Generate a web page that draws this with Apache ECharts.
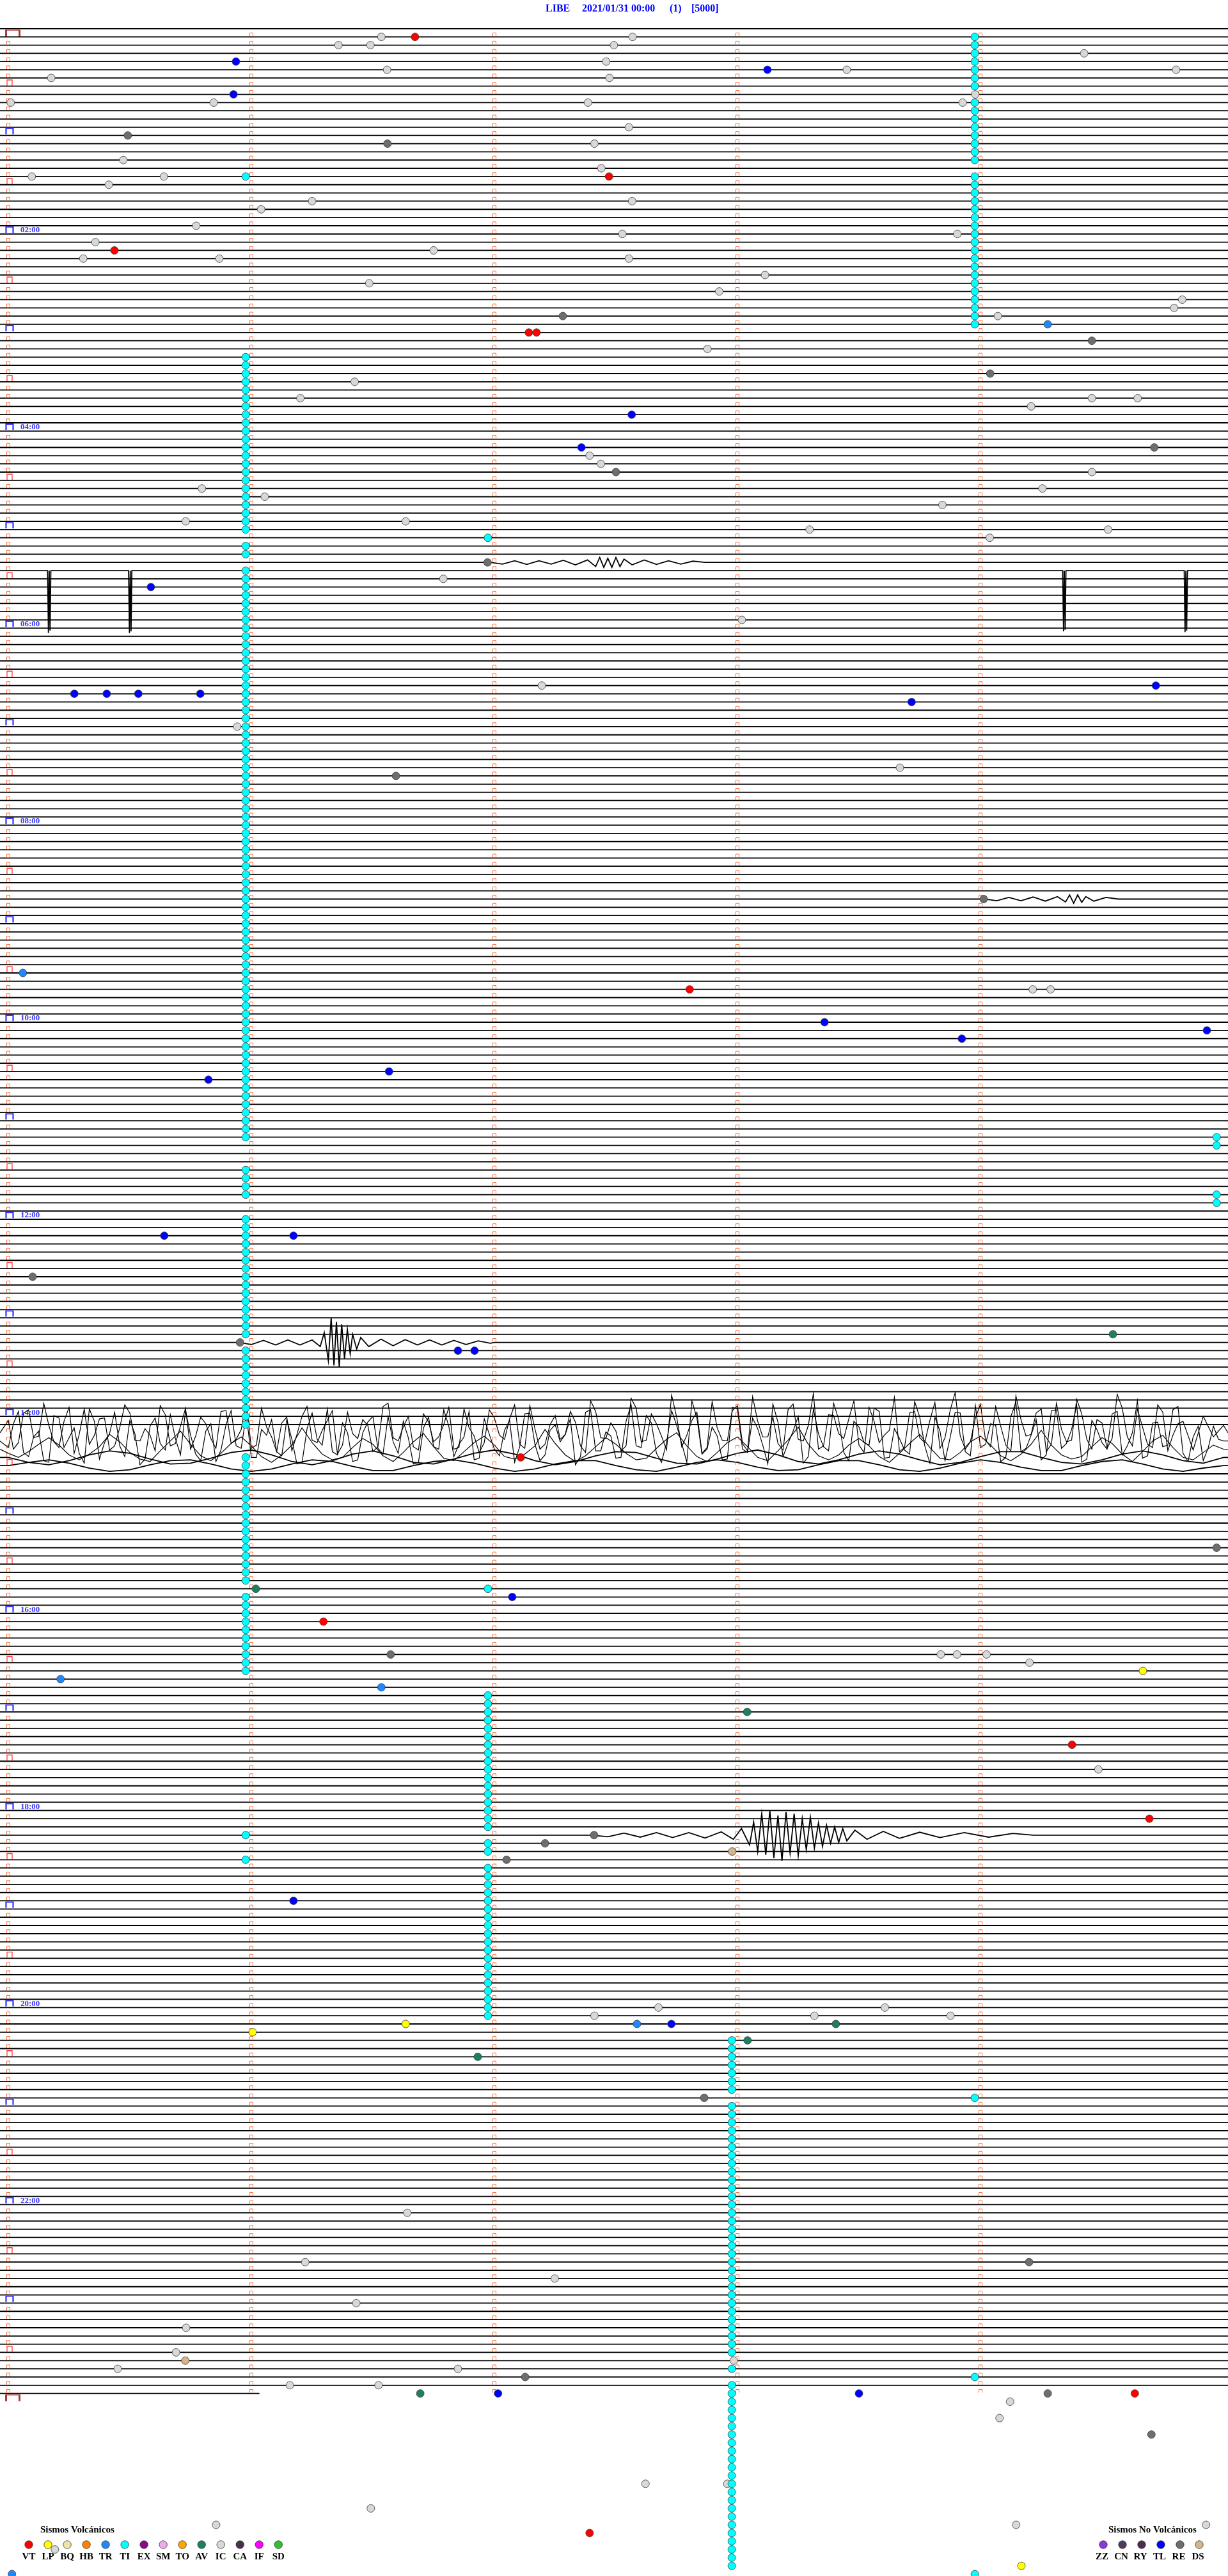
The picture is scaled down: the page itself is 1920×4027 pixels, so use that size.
<!DOCTYPE html>
<html><head><meta charset="utf-8">
<script src="https://cdn.jsdelivr.net/npm/echarts/dist/echarts.min.js"></script>
<style>html,body{margin:0;padding:0;background:#fff}#c{width:1920px;height:4027px}</style>
</head><body><div id="c"></div>
<script>
// ---------------- DATA ----------------
const titleParts = ['LIBE', '2021/01/31 00:00', '(1)', '[5000]'];
const rowCount = 289;            // 5-minute rows 0..288
const lastRowEndSec = 62;        // last row stops after ~1 min
const minuteTicks = [0, 60, 120, 180, 240];
const hourLabels = ['02:00','04:00','06:00','08:00','10:00','12:00','14:00','16:00','18:00','20:00','22:00'];
const volcTypes = ['VT','LP','BQ','HB','TR','TI','EX','SM','TO','AV','IC','CA','IF','SD'];
const volcColors = ['#ff0000','#ffff00','#f0e4a4','#ff8000','#2088ff','#00ffff','#8a0a8a','#eeaaee','#ffa500','#1e8060','#d8d8d8','#4a2e4e','#ff00ff','#30c030'];
const noVolcTypes = ['ZZ','CN','RY','TL','RE','DS'];
const noVolcColors = ['#8a3ad6','#4e3c5c','#4e2c4e','#0000ff','#6e6e6e','#d4b48c'];

// events: [second within row, row]
const VT = [[100.4,1],[26.2,27],[148.3,18],[128.5,37],[130.4,37],[168.2,117],[126.5,174],[77.8,194],[262.6,209],[281.7,218],[278.1,288],[143.5,305]];
const LP = [[280.1,200],[98.1,243],[60.3,244],[250.1,309]];
const TR = [[256.6,36],[3.6,115],[12.9,201],[92.1,202],[155.2,243],[0.9,310]];
const AV = [[272.7,159],[61.1,190],[182.4,205],[204.3,243],[182.5,245],[115.9,247],[101.7,288]];
const DS = [[178.7,222],[43.7,284]];
const TL = [[56.2,4],[187.4,5],[55.6,8],[153.9,47],[141.5,51],[35.2,68],[16.3,81],[24.3,81],[32.1,81],[47.4,81],[223.0,82],[283.3,80],[201.5,121],[235.4,123],[295.9,122],[49.4,128],[94.0,127],[38.5,147],[70.4,147],[111.0,161],[115.1,161],[124.4,191],[70.4,228],[163.7,243],[120.9,288],[210.0,288]];
const RE = [[29.5,13],[93.6,14],[136.9,35],[267.5,38],[242.4,42],[150.0,54],[282.9,51],[118.3,65],[95.7,91],[240.8,106],[6.0,152],[57.2,160],[298.3,185],[94.4,198],[144.6,220],[132.5,221],[123.0,223],[171.8,252],[252.0,272],[127.6,286],[256.6,288],[282.2,293]];
const IC = [[92.1,1],[154.1,1],[81.5,2],[89.4,2],[149.5,2],[265.6,3],[147.6,4],[93.5,5],[207.0,5],[288.3,5],[10.6,6],[148.4,6],[238.7,8],[0.6,9],[50.7,9],[235.6,9],[143.1,9],[153.2,12],[144.7,14],[28.4,16],[146.4,17],[5.8,18],[38.4,18],[24.8,19],[75.0,21],[154.0,21],[62.4,22],[46.4,24],[234.3,25],[151.6,25],[21.5,26],[105.0,27],[18.5,28],[52.1,28],[153.2,28],[186.8,30],[89.1,31],[175.5,32],[289.8,33],[244.3,35],[287.8,34],[172.6,39],[85.5,43],[267.5,45],[278.8,45],[72.1,45],[252.5,46],[143.5,52],[146.3,53],[267.5,54],[47.8,56],[255.3,56],[63.3,57],[230.6,58],[98.1,60],[43.8,60],[197.8,61],[271.5,61],[242.3,62],[107.4,67],[181.1,72],[131.7,80],[56.5,85],[220.1,90],[252.9,117],[257.3,117],[230.2,198],[234.2,198],[241.5,198],[252.1,199],[269.1,212],[160.5,241],[216.4,241],[199.0,242],[232.6,242],[144.7,242],[98.5,266],[73.3,272],[134.9,274],[85.9,277],[43.9,280],[41.4,283],[179.1,284],[27.0,285],[111.0,285],[69.5,287],[91.4,287],[247.3,289],[244.7,291],[157.3,299],[177.5,299],[89.5,302],[51.3,304],[248.8,304],[295.7,304],[11.5,307]];
// TI runs: [second, firstRow, lastRow]
const TI_RUNS = [[238.6,1,7],[238.6,9,16],[238.6,18,36],[238.6,252,252],[238.6,286,286],[238.6,310,310],
  [58.6,18,18],[58.6,40,61],[58.6,63,64],[58.6,66,135],[58.6,139,142],[58.6,145,159],[58.6,161,170],[58.6,174,189],[58.6,191,200],[58.6,220,220],[58.6,223,223],
  [118.4,62,62],[118.4,190,190],[118.4,203,219],[118.4,221,222],[118.4,224,242],
  [178.6,245,251],[178.6,253,283],[178.6,285,285],[178.6,287,309],
  [298.3,135,136],[298.3,142,143]];

// trace excursions: [second, offset in rows]
const row65 = [[119,0],[122,0.2],[125,-0.2],[128,0.25],[131,-0.2],[134,0.2],[137,-0.25],[140,0.3],[143,-0.3],[145,0.5],[146,-0.6],[147,0.6],[148,-0.5],[149,0.6],[150,-0.6],[151,0.5],[152,-0.4],[154,0.3],[157,-0.3],[160,0.25],[163,-0.2],[166,0.2],[169,-0.15],[172,0]];
const row66 = [[9.7,0],[9.9,7.6],[10.1,0],[10.3,7.3],[10.5,0],[29.7,0],[29.9,7.6],[30.1,0],[30.3,7.4],[30.5,0],[260.3,0],[260.5,7.4],[260.7,0],[260.9,7.2],[261.1,0],[290.3,0],[290.5,7.5],[290.7,0],[290.9,7.3],[291.1,0]];
const row106 = [[241,0],[244,0.2],[247,-0.2],[250,0.2],[253,-0.25],[256,0.25],[259,-0.3],[261,0.35],[262,-0.5],[263,0.5],[264,-0.5],[265,0.4],[266,-0.3],[268,0.25],[271,-0.2],[274,0]];
const row160 = [[57,0],[60,0.25],[63,-0.25],[66,0.3],[69,-0.3],[72,0.3],[75,-0.3],[77,0.5],[78,-1.2],[79,2.2],[79.7,-3.0],[80.4,2.8],[81,-2.5],[81.7,3.0],[82.3,-2.2],[83,2.0],[83.7,-1.6],[84.4,1.4],[85,-1.0],[86,0.8],[87,-0.6],[89,0.5],[92,-0.4],[95,0.4],[98,-0.35],[101,0.3],[104,-0.3],[107,0.3],[110,-0.25],[113,0.25],[116,-0.2],[119,0.1],[120,0]];
const row220 = [[144,0],[148,0.2],[152,-0.25],[156,0.25],[160,-0.3],[164,0.3],[168,-0.3],[172,0.35],[176,-0.4],[179,0.5],[181,-0.8],[183,1.2],[184,-1.6],[185,2.0],[186,-2.6],[187,2.4],[188,-3.0],[189,2.8],[190,-2.4],[191,3.1],[192,-2.8],[193,2.2],[194,-2.6],[195,2.5],[196,-2.0],[197,1.8],[198,-2.2],[199,1.6],[200,-1.5],[201,1.4],[202,-1.2],[203,1.0],[204,-1.0],[205,0.9],[206,-0.8],[207,0.7],[209,-0.6],[212,0.5],[216,-0.45],[220,0.4],[225,-0.35],[230,0.3],[236,-0.3],[242,0.25],[248,-0.2],[253,0]];
// 14:05-14:25 noise burst, one value every 2.5 s (offset in rows); "b" sets are the in-between samples
const noise171 = [-1.5,1.2,-2.8,0.4,-0.9,1.8,-3.1,0.2,1.4,-1.7,2.1,-0.6,-2.4,1.0,0.3,-3.3,1.6,-0.8,2.0,-1.9,0.7,-2.6,1.3,-0.4,1.9,-3.0,0.5,-1.2,2.2,-2.0,0.9,-0.3,-2.7,1.5,0.1,-1.6,2.3,-3.2,0.6,-0.7,1.7,-2.3,1.1,-1.0,2.0,-2.9,0.4,1.2,-1.8,0.8,-3.4,1.9,-0.5,1.4,-2.1,0.2,-1.3,2.4,-2.6,0.7,-0.2,1.6,-3.0,0.9,-1.1,2.1,-1.9,0.3,-2.5,1.8,-0.6,1.0,-3.3,2.2,-1.4,0.5,1.3,-2.8,0.8,-0.9,2.0,-2.2,0.1,-1.7,1.5,-3.1,1.2,-0.3,2.3,-2.4,0.6,-1.5,1.9,-2.7,0.4,1.1,-3.5,1.7,-0.8,2.2,-1.6,0.2,-2.9,1.4,-0.4,0.9,-2.3,2.0,-1.2,0.7,-3.0,1.6,-0.7,1.8,-2.5,0.3,-1.4,2.1,-2.0,0.5,-0.9];
const noise171b = [2.0,-2.4,0.6,-3.6,1.1,-1.4,2.5,-2.9,0.3,-1.8,1.6,-3.4,0.9,-0.5,2.2,-2.2,1.3,-3.0,0.4,-1.1,1.9,-2.7,0.8,-3.8,1.5,-0.7,2.3,-1.9,0.2,-3.2,1.2,-1.5,2.6,-2.5,0.7,-0.9,1.7,-3.6,1.0,-2.0,2.1,-1.3,0.5,-3.1,1.8,-0.6,2.4,-2.8,0.3,-1.7,1.4,-3.3,2.0,-1.0,0.8,-2.6,1.6,-3.9,0.6,-1.2,2.2,-4.2,1.1,-2.3,0.4,-4.6,1.7,-1.5,2.5,-3.8,0.9,-2.7,1.3,-4.4,0.5,-1.9,2.1,-3.5,1.0,-4.8,1.6,-2.1,0.7,-3.9,2.4,-1.4,0.3,-4.3,1.8,-2.6,1.2,-3.7,0.6,-4.9,2.0,-1.8,0.9,-3.2,1.5,-4.5,0.4,-2.4,2.3,-3.6,1.1,-4.1,0.8,-1.6,1.9,-4.7,0.5,-2.9,1.4,-3.4,2.2,-1.1];
const noise172 = [0.8,-3.6,1.9,-1.2,2.6,-2.8,-0.4,1.5,-3.9,2.2,-0.9,0.6,-2.5,2.9,-1.8,0.3,-3.2,1.7,-0.7,2.4,-2.1,1.1,-3.7,0.9,2.0,-1.4,-2.6,1.8,-0.2,2.7,-3.4,0.5,1.3,-2.2,2.5,-1.0,-3.0,1.6,0.1,-2.4,2.8,-1.6,0.7,-3.8,1.9,-0.5,2.3,-2.7,1.0,-1.3,2.6,-3.3,0.4,1.7,-2.0,-0.8,2.9,-3.5,1.2,-1.1,2.1,-2.4,0.6,-3.1,1.5,0.2,-1.9,2.6,-2.8,1.0,-0.6,2.2,-3.9,1.4,-1.5,2.8,-2.3,0.3,-3.0,1.9,-0.9,1.2,-2.6,2.4,-1.7,0.5,-3.6,2.0,-0.3,1.6,-2.9,2.7,-1.2,-0.4,-3.4,1.8,0.8,-2.1,2.5,-3.0,1.3,-0.7,2.3,-3.7,0.9,-1.4,2.6,-2.5,0.2,-3.3,1.7,-1.0,2.1,-2.2,0.7,-3.8,1.5,-0.5,2.4,-1.8,0.0];
const noise172b = [-2.1,1.4,-0.5,2.4,-3.1,0.8,-1.6,2.7,-2.4,0.2,-3.5,1.9,-0.9,2.2,-2.8,1.1,-0.3,-3.7,1.6,-1.2,2.5,-2.0,0.6,-3.3,2.0,-0.7,1.3,-2.6,2.8,-1.5,-0.2,-3.9,1.7,-1.0,2.3,-2.3,0.9,-3.0,1.5,-0.4,2.6,-2.9,1.0,-1.8,0.4,-3.6,2.1,-0.8,1.8,-2.5,0.7,-3.4,2.4,-1.3,0.1,-2.7,1.9,-3.8,1.2,-0.6,2.0,-4.4,0.8,-2.2,2.6,-3.7,0.3,-4.9,1.6,-1.7,2.3,-4.1,1.0,-2.8,0.5,-4.5,1.9,-1.2,2.7,-3.9,0.7,-4.6,1.4,-2.4,0.2,-4.0,2.1,-1.5,1.1,-4.8,0.6,-2.9,2.4,-3.5,1.3,-4.3,0.4,-1.9,2.0,-4.7,0.9,-2.6,1.7,-3.8,0.3,-4.4,2.2,-1.4,1.0,-3.6,0.6,-4.9,1.8,-2.3,0.5,-4.2,2.5,-1.8,0.8,-0.2];
const noise173 = [0.5,1.0,0.3,-0.6,-1.4,-0.5,0.7,1.3,0.6,-0.3,-1.8,-0.9,0.4,1.2,1.5,0.2,-1.0,-2.2,-0.6,0.8,1.4,0.5,-0.7,-1.5,-0.4,0.9,1.6,0.7,-0.5,-2.6,-0.8,0.6,1.3,1.0,-0.2,-1.3,-0.6,0.8,1.5,0.4,-0.9,-1.9,-0.3,1.1,1.4,0.3,-0.8,-1.6,-0.5,0.9,1.2,0.6,-0.4,-2.4,-0.7,0.7,1.5,0.8,-0.3,-1.4,-0.6,0.5,1.3,1.1,-0.1,-1.2,-2.0,-0.4,0.9,1.5,0.4,-0.8,-1.5,-0.3,1.0,1.4,0.2,-1.1,-2.7,-0.6,0.8,1.3,0.7,-0.5,-1.3,-0.4,0.9,1.6,0.5,-0.7,-1.8,-0.2,1.1,1.3,0.4,-0.9,-1.6,-0.5,0.8,1.4,0.6,-0.6,-2.3,-0.5,0.7,1.2,0.9,-0.3,-1.4,-0.7,0.6,1.5,0.3,-1.0,-1.7,-0.2,1.0,1.3,0.4,-0.5,0.0];
const wave174 = [0,0.6,0.9,0.4,-0.3,-0.8,-0.5,0.2,0.8,0.7,0.1,-0.6,-0.9,-0.3,0.5,0.9,0.4,-0.4,-0.8,-0.2,0.6,0.8,0.2,-0.5,-0.9,-0.4,0.4,0.9,0.5,-0.2,-0.7,-0.6,0.1,0.7,0.8,0.2,-0.5,-0.9,-0.3,0.5,0.8,0.3,-0.4,-0.8,-0.4,0.3,0.9,0.6,-0.1,-0.7,-0.7,0.0,0.6,0.8,0.3,-0.4,-0.8,-0.3,0.4,0.7,0];
const wave175 = [0,-0.4,-0.7,-0.3,0.3,0.7,0.5,-0.1,-0.6,-0.7,-0.2,0.4,0.7,0.4,-0.2,-0.7,-0.5,0.1,0.6,0.6,0.0,-0.5,-0.7,-0.3,0.3,0.7,0.4,-0.2,-0.6,-0.6,0.0,0.5,0.7,0.2,-0.4,-0.7,-0.4,0.2,0.6,0.5,-0.1,-0.6,-0.6,-0.1,0.5,0.7,0.3,-0.3,-0.7,-0.4,0.2,0.6,0.6,0.0,-0.5,-0.7,-0.2,0.4,0.7,0.3,0];

// ---------------- LAYOUT ----------------
const XMIN = -2.0526, XMAX = 301.105, YMIN = -3.4952, YMAX = 310.232;
const FONT = '"Liberation Serif", "Times New Roman", serif';

const TI = [];
TI_RUNS.forEach(r => { for (let k = r[1]; k <= r[2]; k++) TI.push([r[0], k]); });

const detail = {65: row65, 66: row66, 106: row106, 160: row160, 220: row220};
// sampled sets: [values, first sample time, sample spacing]
const sampled = {
  171: [[noise171, 0, 2.5], [noise171b, 1.25, 2.5]],
  172: [[noise172, 0, 2.5], [noise172b, 1.25, 2.5]],
  173: [[noise173, 0, 2.5]],
  174: [[wave174, 0, 5]],
  175: [[wave175, 0, 5]]
};
const traceData = [];
for (let k = 0; k < rowCount; k++) {
  const end = k === rowCount - 1 ? lastRowEndSec : XMAX;
  let inner = [];
  if (detail[k]) detail[k].forEach(p => inner.push([p[0], k + p[1]]));
  if (sampled[k]) sampled[k].forEach(s => s[0].forEach((v, i) => inner.push([s[1] + i * s[2], k + v])));
  inner.sort((a, b) => a[0] - b[0]);
  const item = {coords: [[XMIN, k]].concat(inner, [[end, k]])};
  if (k >= 171 && k <= 173) item.lineStyle = {width: 1.2};
  traceData.push(item);
}
const smallTicks = [], halfTicks = [], hourTicks = [], dayTicks = [[minuteTicks[0], 1], [minuteTicks[0], rowCount]];
for (let k = 1; k < rowCount; k++) {
  minuteTicks.forEach((s, i) => {
    if (i === 0) {
      if (k === 1) return;
      if ((k - 1) % 12 === 0) { hourTicks.push([s, k]); return; }
      if ((k - 1) % 12 === 6) { halfTicks.push([s, k]); return; }
    }
    smallTicks.push([s, k]);
  });
}
const hourLabelData = hourLabels.map((t, i) => [minuteTicks[0], 1 + 24 * (i + 1), t]);

const bracket = 'path://M0,10L0,0L10,0L10,10';
function tickSeries(data, color, size, offset, width) {
  return {type: 'scatter', data, symbol: bracket, symbolSize: size, symbolOffset: offset, symbolKeepAspect: false,
    itemStyle: {color: 'rgba(0,0,0,0)', borderColor: color, borderWidth: width}, silent: true, z: 3, animation: false};
}
function eventSeries(name, data, color) {
  return {name, type: 'scatter', data, symbol: 'circle', symbolSize: 12,
    itemStyle: {color, borderColor: '#3a3a3a', borderWidth: 0.8, opacity: 1}, z: 5, silent: true, animation: false};
}
const colorOf = t => { let i = volcTypes.indexOf(t); if (i >= 0) return volcColors[i]; return noVolcColors[noVolcTypes.indexOf(t)]; };

const graphics = [];
const titleX = [853, 910, 1047, 1081];
titleParts.forEach((t, i) => graphics.push({type: 'text', left: titleX[i], top: 6, style: {text: t, font: 'bold 16px ' + FONT, fill: '#0000ff'}}));
graphics.push({type: 'text', left: 63, top: 3948, style: {text: 'Sismos Volcánicos', font: 'bold 15px ' + FONT, fill: '#000'}});
volcTypes.forEach((t, i) => {
  const cx = 45 + 30.02 * i;
  graphics.push({type: 'circle', shape: {cx, cy: 3978, r: 6.2}, style: {fill: volcColors[i], stroke: '#333', lineWidth: 0.8}});
  graphics.push({type: 'text', x: cx, y: 3997, style: {text: t, font: 'bold 15px ' + FONT, fill: '#000', align: 'center', verticalAlign: 'middle'}});
});
graphics.push({type: 'text', left: 1733, top: 3948, style: {text: 'Sismos No Volcánicos', font: 'bold 15px ' + FONT, fill: '#000'}});
noVolcTypes.forEach((t, i) => {
  const cx = 1725 + 30 * i;
  graphics.push({type: 'circle', shape: {cx, cy: 3978, r: 6.2}, style: {fill: noVolcColors[i], stroke: '#333', lineWidth: 0.8}});
  graphics.push({type: 'text', x: cx - 2, y: 3997, style: {text: t, font: 'bold 15px ' + FONT, fill: '#000', align: 'center', verticalAlign: 'middle'}});
});

const chart = echarts.init(document.getElementById('c'), null, {renderer: 'canvas'});
chart.setOption({
  animation: false,
  backgroundColor: '#ffffff',
  grid: {left: 0, right: 0, top: 0, bottom: 0, containLabel: false},
  xAxis: {type: 'value', min: XMIN, max: XMAX, show: false},
  yAxis: {type: 'value', min: YMIN, max: YMAX, inverse: true, show: false},
  graphic: graphics,
  series: [
    {type: 'lines', coordinateSystem: 'cartesian2d', polyline: true, data: traceData, lineStyle: {color: '#000', width: 1.8, opacity: 1}, silent: true, z: 2, animation: false, large: false},
    tickSeries(smallTicks, '#ff4500', [5, 5], [0, -3.6], 1),
    tickSeries(halfTicks, '#ff1010', [8, 9], [2, -5.2], 1.4),
    tickSeries(hourTicks, '#0000ff', [11, 9], [2, -6.3], 2),
    tickSeries(dayTicks, '#990000', [21, 10], [7, -5.6], 2),
    {type: 'scatter', data: hourLabelData, symbolSize: 0, silent: true, z: 4,
      label: {show: true, position: 'right', distance: 19, offset: [0, -6], formatter: p => p.data[2],
        fontFamily: FONT, fontWeight: 'bold', fontSize: 13, color: '#0000ff'}},
    eventSeries('IC', IC, colorOf('IC')),
    eventSeries('TI', TI, colorOf('TI')),
    eventSeries('RE', RE, colorOf('RE')),
    eventSeries('TL', TL, colorOf('TL')),
    eventSeries('TR', TR, colorOf('TR')),
    eventSeries('AV', AV, colorOf('AV')),
    eventSeries('DS', DS, colorOf('DS')),
    eventSeries('LP', LP, colorOf('LP')),
    eventSeries('VT', VT, colorOf('VT'))
  ]
});
</script></body></html>
